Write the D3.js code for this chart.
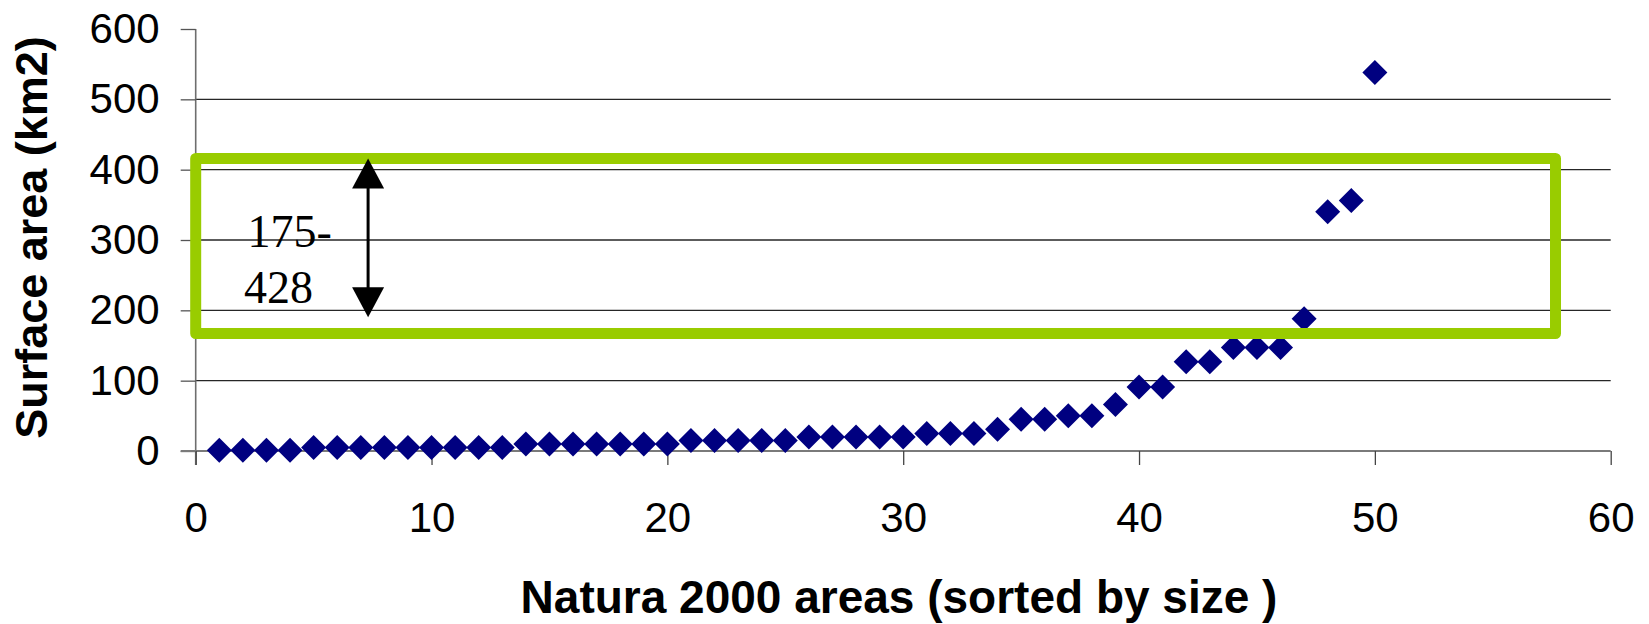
<!DOCTYPE html>
<html>
<head>
<meta charset="utf-8">
<script src="https://cdn.jsdelivr.net/npm/d3@7"></script>
<style>
  html, body { margin: 0; padding: 0; background: #fff; }
  svg { display: block; }
</style>
</head>
<body>
<svg id="chart" width="1649" height="624"></svg>
<script>
// ---- data ----
const areaIndex = d3.range(1, 51);
const surfaceArea = [1, 1, 1, 1, 5, 5, 5, 5, 5, 5,
                     5, 5, 5, 10, 10, 10, 10, 10, 10, 10,
                     15, 15, 15, 15, 15, 20, 20, 20, 20, 20,
                     25, 25, 25, 31, 45, 45, 50, 50, 66, 91,
                     91, 127, 127, 147, 147, 147, 188, 340, 356, 538];
const xTicks = [0, 10, 20, 30, 40, 50, 60];
const yTicks = [0, 100, 200, 300, 400, 500, 600];
const gridValues = [100, 200, 300, 400, 500];
const xTitle = "Natura 2000 areas (sorted by size )";
const yTitle = "Surface area (km2)";
// annotation (data units)
const boxX = [0, 57.66];
const boxY = [167, 416];
const arrowX = [7.31];
const arrowY = [190, 416];
const rangeLabel = ["175-", "428"];
const rangeLabelPos = [[2.2, 290], [2.05, 210]];

// ---- scales ----
const svg = d3.select("#chart");
const x = d3.scaleLinear().domain([0, 60]).range([195.7, 1610.7]);
const y = d3.scaleLinear().domain([0, 600]).range([451, 29]);

// gridlines
svg.append("g")
  .selectAll("line").data(gridValues).join("line")
  .attr("x1", x(0)).attr("x2", x(60))
  .attr("y1", d => y(d)).attr("y2", d => y(d))
  .attr("stroke", "#262626").attr("stroke-width", 1.3);

// y axis
const yAxis = svg.append("g").attr("transform", `translate(${x(0)},0)`)
  .call(d3.axisLeft(y).tickValues(yTicks).tickSize(15).tickPadding(21).tickFormat(d3.format("d")));
yAxis.select(".domain").attr("stroke", "#6e6e6e").attr("stroke-width", 1.6)
  .attr("d", `M0,${y(600)}V${y(0) + 14}`);
yAxis.selectAll(".tick line").attr("stroke", "#555").attr("stroke-width", 1.3);
yAxis.selectAll(".tick text")
  .attr("font-family", "'Liberation Sans', Arial, sans-serif")
  .attr("font-size", 42).attr("fill", "#000");

// x axis
const xAxis = svg.append("g").attr("transform", `translate(0,${y(0)})`)
  .call(d3.axisBottom(x).tickValues(xTicks).tickSize(14).tickPadding(37).tickFormat(d3.format("d")));
xAxis.select(".domain").attr("stroke", "#7a7a7a").attr("stroke-width", 2)
  .attr("d", `M${x(0) - 15},0H${x(60)}`);
xAxis.selectAll(".tick line").attr("stroke", "#444").attr("stroke-width", 1.3);
xAxis.selectAll(".tick text")
  .attr("font-family", "'Liberation Sans', Arial, sans-serif")
  .attr("font-size", 42).attr("fill", "#000");

// points
const half = 12.5;
const diamond = `M0,${-half}L${half},0L0,${half}L${-half},0Z`;
svg.append("g")
  .selectAll("path").data(areaIndex).join("path")
  .attr("d", diamond)
  .attr("transform", (d, i) => `translate(${x(d)},${y(surfaceArea[i])})`)
  .attr("fill", "#000080");

// green range box
svg.append("rect")
  .attr("x", x(boxX[0])).attr("y", y(boxY[1]))
  .attr("width", x(boxX[1]) - x(boxX[0]))
  .attr("height", y(boxY[0]) - y(boxY[1]))
  .attr("fill", "none").attr("stroke", "#99CC00")
  .attr("stroke-width", 11).attr("stroke-linejoin", "round");

// double arrow
const ax = x(arrowX[0]);
const yTop = y(arrowY[1]), yBot = y(arrowY[0]);
const headL = 30, headW = 16;
svg.append("line")
  .attr("x1", ax).attr("x2", ax)
  .attr("y1", yTop + headL - 2).attr("y2", yBot - headL + 2)
  .attr("stroke", "#000").attr("stroke-width", 3);
svg.append("path")
  .attr("d", `M${ax},${yTop}L${ax + headW},${yTop + headL}L${ax - headW},${yTop + headL}Z`)
  .attr("fill", "#000");
svg.append("path")
  .attr("d", `M${ax},${yBot}L${ax + headW},${yBot - headL}L${ax - headW},${yBot - headL}Z`)
  .attr("fill", "#000");

// range label
svg.append("g").selectAll("text").data(rangeLabel).join("text")
  .attr("x", (d, i) => x(rangeLabelPos[i][0]))
  .attr("y", (d, i) => y(rangeLabelPos[i][1]))
  .attr("font-family", "'Liberation Serif', 'Times New Roman', serif")
  .attr("font-size", 46).attr("fill", "#000")
  .text(d => d);

// axis titles
svg.append("text")
  .attr("x", 899).attr("y", 613)
  .attr("text-anchor", "middle")
  .attr("font-family", "'Liberation Sans', Arial, sans-serif")
  .attr("font-weight", "bold").attr("font-size", 46).attr("fill", "#000")
  .text(xTitle);

svg.append("text")
  .attr("transform", "translate(47,237.5) rotate(-90)")
  .attr("text-anchor", "middle")
  .attr("font-family", "'Liberation Sans', Arial, sans-serif")
  .attr("font-weight", "bold").attr("font-size", 45).attr("fill", "#000")
  .text(yTitle);
</script>
</body>
</html>
